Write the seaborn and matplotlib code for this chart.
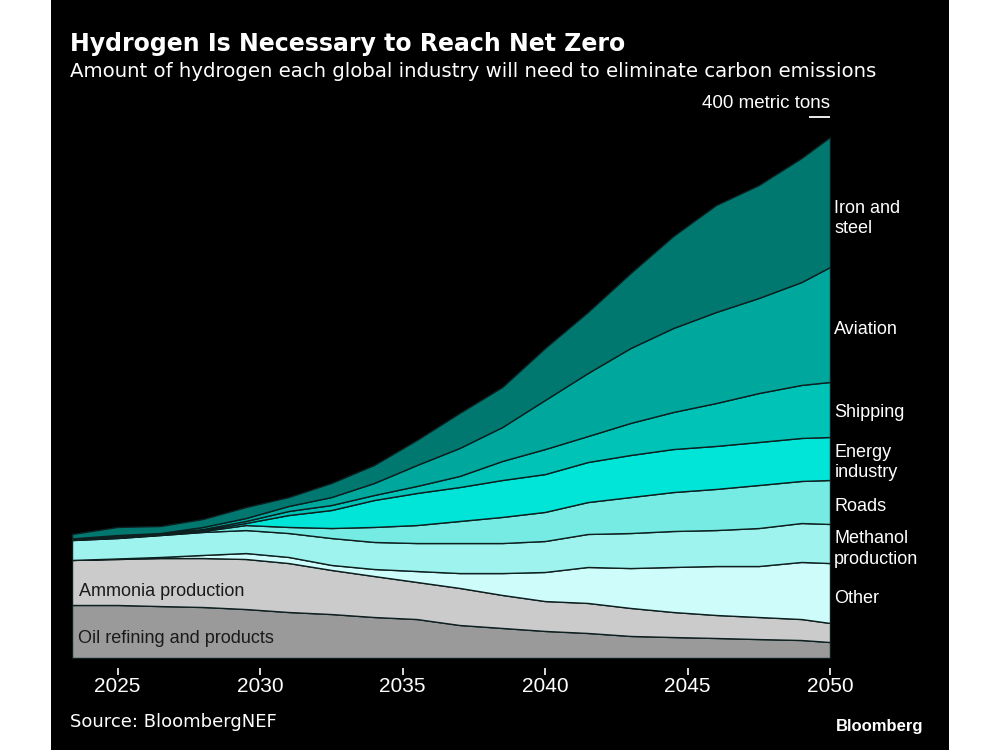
import matplotlib
matplotlib.use("Agg")
import matplotlib.pyplot as plt
from matplotlib.patches import Rectangle
import numpy as np
import seaborn as sns

# Data (million metric tons of hydrogen)
years = [2023.4, 2025, 2026.5, 2028, 2029.5, 2031, 2032.5, 2034, 2035.5, 2037,
         2038.5, 2040, 2041.5, 2043, 2044.5, 2046, 2047.5, 2049, 2050]

oil_refining = [39.2, 39.2, 38.4, 37.7, 36.2, 34.0, 32.5, 30.3, 28.8, 24.4,
                22.2, 20.0, 18.5, 16.3, 15.5, 14.8, 14.0, 13.3, 11.8]
ammonia = [33.3, 34.0, 35.5, 36.2, 37.0, 36.2, 32.6, 30.3, 27.4, 27.4,
           24.4, 22.1, 22.2, 20.7, 18.5, 17.0, 16.3, 15.5, 14.1]
other = [0.0, 0.4, 0.8, 2.3, 4.4, 4.5, 3.7, 5.2, 8.1, 11.0,
         16.2, 21.5, 26.6, 29.5, 33.3, 36.2, 37.7, 42.2, 44.3]
methanol = [14.7, 15.1, 16.2, 17.0, 17.0, 17.7, 19.9, 20.0, 20.7, 22.2,
            22.2, 22.9, 24.4, 25.9, 26.6, 26.6, 28.1, 28.8, 28.9]
roads = [0.4, 0.4, 0.4, 0.7, 3.7, 4.5, 7.4, 11.1, 13.3, 16.3,
         19.3, 21.5, 23.6, 26.6, 28.8, 30.4, 31.8, 31.1, 32.5]
energy = [0.2, 0.4, 0.4, 0.7, 1.5, 8.8, 13.3, 19.9, 23.7, 25.1,
          27.3, 28.0, 29.6, 31.1, 31.8, 31.8, 31.8, 31.8, 31.8]
shipping = [0.2, 0.3, 0.4, 0.8, 1.5, 3.0, 3.7, 3.7, 5.2, 8.2,
            14.1, 18.5, 19.2, 23.7, 27.4, 31.7, 36.2, 39.2, 40.7]
aviation = [0.4, 1.1, 0.3, 1.5, 2.2, 3.7, 5.9, 8.9, 15.5, 20.7,
            25.1, 36.3, 46.6, 55.4, 62.1, 67.3, 70.3, 76.1, 85.0]
iron_steel = [3.3, 6.0, 5.2, 5.9, 8.1, 6.6, 10.4, 13.3, 18.5, 25.9,
              29.6, 38.4, 45.1, 55.4, 68.0, 79.1, 83.5, 91.7, 96.1]

series = [oil_refining, ammonia, other, methanol, roads, energy, shipping, aviation, iron_steel]
right_labels = [None, None, "Other", "Methanol\nproduction", "Roads", "Energy\nindustry",
                "Shipping", "Aviation", "Iron and\nsteel"]
inner_labels = ["Oil refining and products", "Ammonia production"]
xticks = [2025, 2030, 2035, 2040, 2045, 2050]
y_top = 400

colors = ["#9a9a9a", "#cbcbcb", "#cefcfa", "#9ff3ee", "#76ebe4",
          "#00e5d8", "#00c3b7", "#00a79d", "#00786f"]

sns.set_theme(style="dark", rc={"axes.facecolor": "black", "figure.facecolor": "white"})
plt.rcParams["font.family"] = ["Liberation Sans", "DejaVu Sans"]

fig = plt.figure(figsize=(10, 7.5), dpi=100)
fig.patches.append(Rectangle((0.051, 0), 0.898, 1, transform=fig.transFigure,
                             facecolor="black", edgecolor="none", zorder=-10))

ax = fig.add_axes([0.072, 1 - 658 / 750, 0.758, (658 - 117) / 750])
ax.set_facecolor("black")
ax.stackplot(years, *series, colors=colors, edgecolor="#0d1f1f", linewidth=1.0)

ax.set_xlim(years[0], years[-1])
ax.set_ylim(0, y_top)
ax.set_yticks([])
ax.set_xticks(xticks)
ax.set_xticklabels([str(t) for t in xticks])
ax.tick_params(axis="x", colors="white", length=5, width=1.2, pad=2,
               labelcolor="white", labelsize=15, bottom=True)
for s in ax.spines.values():
    s.set_visible(False)
ax.spines["bottom"].set_position(("outward", 7))
ax.grid(False)

# 400 metric tons marker
ax.hlines(y_top, years[-1] - 0.75, years[-1], color="white", lw=1.3, clip_on=False)
ax.text(years[-1], y_top + 3.5, "400 metric tons", color="white", fontsize=13.5,
        ha="right", va="bottom")

# right-side labels at layer middles (2050)
cum = np.cumsum([s[-1] for s in series])
nudges = [0, 0, -4, -4, -3, -3, -2, -4, -12]
for i, lab in enumerate(right_labels):
    if lab is None:
        continue
    lower = cum[i - 1] if i > 0 else 0
    mid = (lower + cum[i]) / 2 + nudges[i]
    ax.text(years[-1] + 0.15, mid, lab, color="white", fontsize=13,
            ha="left", va="center", linespacing=1.25)

# labels inside the gray layers
ax.text(years[0] + 0.2, oil_refining[0] / 2 - 5, inner_labels[0], color="#1a1a1a",
        fontsize=13, ha="left", va="center")
ax.text(years[0] + 0.25, oil_refining[0] + ammonia[0] / 2 - 6.5, inner_labels[1],
        color="#1a1a1a", fontsize=13, ha="left", va="center")

fig.text(0.07, 0.942, "Hydrogen Is Necessary to Reach Net Zero", color="white",
         fontsize=17, fontweight="bold", family="DejaVu Sans", va="center")
fig.text(0.07, 0.905, "Amount of hydrogen each global industry will need to eliminate carbon emissions",
         color="white", fontsize=14.2, family="DejaVu Sans", va="center")
fig.text(0.07, 0.037, "Source: BloombergNEF", color="white", fontsize=13,
         family="DejaVu Sans", va="center")
fig.text(0.923, 0.032, "Bloomberg", color="white", fontsize=12, fontweight="bold",
         ha="right", va="center")

fig.savefig("out.png", dpi=100)
